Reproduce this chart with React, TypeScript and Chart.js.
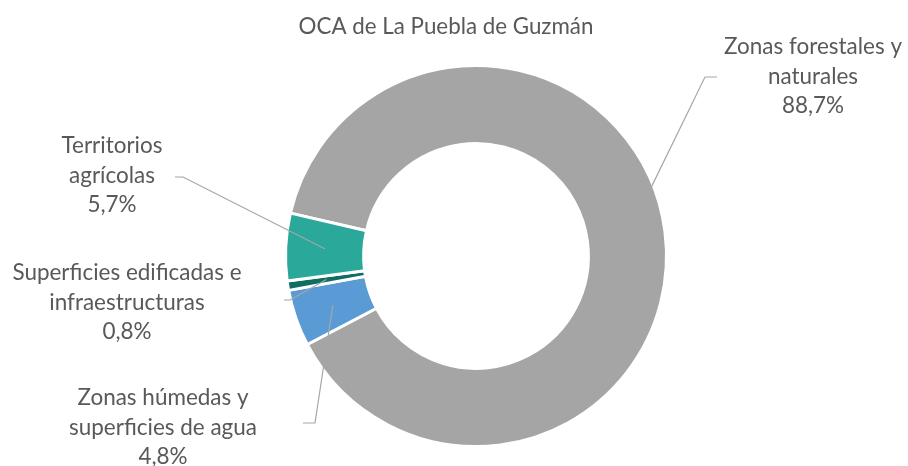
import React, { useEffect, useRef } from 'react';
import { Chart, registerables } from 'chart.js';

Chart.register(...registerables);

const chartTitle = 'OCA de La Puebla de Guzmán';
const categories = [
  'Zonas forestales y naturales',
  'Zonas húmedas y superficies de agua',
  'Superficies edificadas e infraestructuras',
  'Territorios agrícolas',
];
const values = [88.7, 4.8, 0.8, 5.7];
const labelLines = [
  ['Zonas forestales y', 'naturales'],
  ['Zonas húmedas y', 'superficies de agua'],
  ['Superficies edificadas e', 'infraestructuras'],
  ['Territorios', 'agrícolas'],
];
const percentLabels = ['88,7%', '4,8%', '0,8%', '5,7%'];
const colors = ['#A5A5A5', '#5B9BD5', '#0F6E60', '#2AA99B'];

// layout of data labels (position only)
const labelLayout = [
  { cx: 813, y0: 47, lead: [[717, 77], [705, 77]], frac: 0.456, rad: 0.97 },
  { cx: 163, y0: 398, lead: [[303, 423], [315, 423]], frac: 0.5, rad: 0.5 },
  { cx: 127, y0: 273, lead: [[284, 300], [290, 300]], frac: 0.5, rad: 0.5 },
  { cx: 112, y0: 146, lead: [[175, 177], [183, 177]], frac: 0.5, rad: 0.5 },
];
const LINE_H = 29.5;
const FONT = 'Lato, "Open Sans", sans-serif';
const TEXT = '#595959';

const labelPlugin = {
  id: 'labelPlugin',
  afterDraw(chart: any) {
    const ctx = chart.ctx as CanvasRenderingContext2D;
    ctx.save();
    ctx.font = `24px ${FONT}`;
    const w = ctx.measureText('Zonas forestales y').width;
    const size = (24 * 178) / w;
    const tw = ctx.measureText(chartTitle).width;
    const tsize = (24 * 295) / tw;

    ctx.fillStyle = TEXT;
    ctx.textAlign = 'center';
    ctx.textBaseline = 'middle';
    ctx.font = `${tsize}px ${FONT}`;
    ctx.fillText(chartTitle, 446, 27);

    const meta = chart.getDatasetMeta(0);
    meta.data.forEach((arc: any, i: number) => {
      const p = arc.getProps(['x', 'y', 'startAngle', 'endAngle', 'innerRadius', 'outerRadius'], true);
      const L = labelLayout[i];
      const ang = p.startAngle + (p.endAngle - p.startAngle) * L.frac;
      const r = p.innerRadius + (p.outerRadius - p.innerRadius) * L.rad;
      const ex = p.x + Math.cos(ang) * r;
      const ey = p.y + Math.sin(ang) * r;
      ctx.strokeStyle = '#A6A6A6';
      ctx.lineWidth = 1.2;
      ctx.beginPath();
      ctx.moveTo(L.lead[0][0], L.lead[0][1]);
      ctx.lineTo(L.lead[1][0], L.lead[1][1]);
      ctx.lineTo(ex, ey);
      ctx.stroke();

      ctx.fillStyle = TEXT;
      ctx.font = `${size}px ${FONT}`;
      const lines = [...labelLines[i], percentLabels[i]];
      lines.forEach((t, k) => ctx.fillText(t, L.cx, L.y0 + k * LINE_H));
    });
    ctx.restore();
  },
};

export default function App() {
  const ref = useRef<HTMLCanvasElement>(null);
  useEffect(() => {
    if (!ref.current) return;
    const chart = new Chart(ref.current, {
      type: 'doughnut',
      data: {
        labels: categories,
        datasets: [
          {
            data: values,
            backgroundColor: colors,
            borderColor: '#FFFFFF',
            borderWidth: 3,
          },
        ],
      },
      options: {
        responsive: false,
        animation: false,
        rotation: 283,
        cutout: '59%',
        layout: { padding: { top: 64, bottom: 18, left: 284, right: 240 } },
        plugins: {
          legend: { display: false },
          tooltip: { enabled: false },
          title: { display: false },
        },
      },
      plugins: [labelPlugin],
    });
    return () => chart.destroy();
  }, []);
  return (
    <div style={{ position: 'absolute', left: 0, top: 0, width: 908, height: 466, background: '#fff' }}>
      <canvas ref={ref} width={908} height={466} style={{ display: 'block' }} />
    </div>
  );
}
